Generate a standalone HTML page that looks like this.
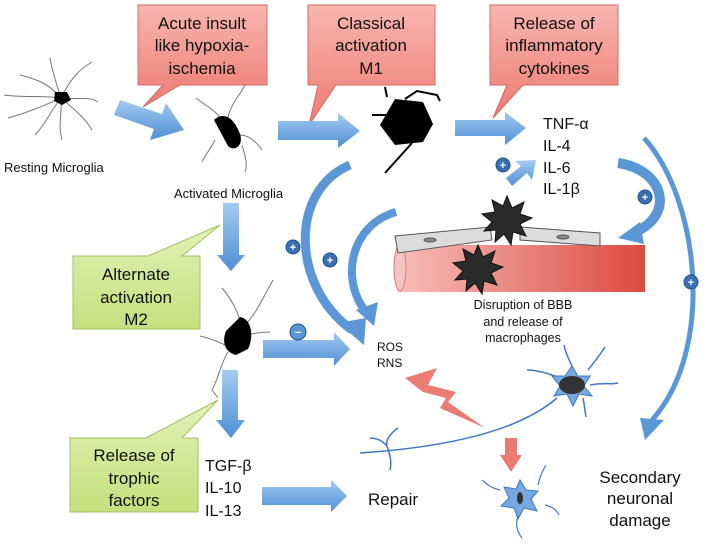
<!DOCTYPE html>
<html><head><meta charset="utf-8"><style>
body{margin:0;background:#fff;width:708px;height:550px;overflow:hidden}
svg{display:block}
text{font-family:"Liberation Sans",sans-serif;fill:#111}
</style></head><body>
<svg width="708" height="550" viewBox="0 0 708 550">
<defs>
<linearGradient id="rd" x1="0" y1="0" x2="0" y2="1"><stop offset="0" stop-color="#f8b6b0"/><stop offset="1" stop-color="#ec7a72"/></linearGradient>
<linearGradient id="gr" x1="0" y1="0" x2="0" y2="1"><stop offset="0" stop-color="#e3f1b6"/><stop offset="1" stop-color="#c5e07e"/></linearGradient>
<linearGradient id="vs" x1="0" y1="0" x2="1" y2="0"><stop offset="0" stop-color="#f7bdb8"/><stop offset="1" stop-color="#dc4a42"/></linearGradient>
<linearGradient id="bl" x1="0" y1="0" x2="0" y2="1"><stop offset="0" stop-color="#a4cbf0"/><stop offset="1" stop-color="#4f8fd6"/></linearGradient>
</defs>
<!-- red callouts -->
<g fill="url(#rd)" stroke="#d56a63">
<path d="M138,5 H267 V85 H180 L143,107 L163,85 H138 Z"/>
<path d="M308,5 H435 V85 H336 L309,125 L318,85 H308 Z"/>
<path d="M490,5 H618 V85 H523 L493,118 L507,85 H490 Z"/>
</g>
<g font-size="17" text-anchor="middle">
<text x="202" y="29">Acute insult</text><text x="202" y="51">like hypoxia-</text><text x="202" y="74">ischemia</text>
<text x="371" y="29">Classical</text><text x="371" y="51">activation</text><text x="371" y="74">M1</text>
<text x="554" y="29">Release of</text><text x="554" y="51">inflammatory</text><text x="554" y="74">cytokines</text>
</g>
<!-- green callouts -->
<g fill="url(#gr)" stroke="#a3c162">
<path d="M73,256 H148 L220,225 L182,256 H200 V329 H73 Z"/>
<path d="M70,438 H146 L218,400 L182,438 H198 V512 H70 Z"/>
</g>
<g font-size="17" text-anchor="middle">
<text x="136" y="280">Alternate</text><text x="136" y="303">activation</text><text x="136" y="325">M2</text>
<text x="134" y="461">Release of</text><text x="134" y="484">trophic</text><text x="134" y="506">factors</text>
</g>
<!-- straight blue arrows -->
<g fill="url(#bl)">
<path d="M120,100 L162,114 L166,103 L184,130 L150,140 L154,129 L114,115 Z"/>
<path d="M278,121 H338 V113 L360,131 L338,148 V140 H278 Z"/>
<path d="M455,120 H505 V112 L526,128 L505,145 V136 H455 Z"/>
<path d="M223,203 H239 V255 H245 L231,271 L217,255 H223 Z"/>
<path d="M222,370 H238 V420 H245 L231,438 L216,420 H222 Z"/>
<path d="M263,340 H334 V332 L350,349 L334,366 V358 H263 Z"/>
<path d="M262,487 H331 V480 L347,496 L331,512 V505 H262 Z"/>
<path d="M506,178 L521,166 L515,161 L536,160 L532,180 L527,173 L512,186 Z"/>
</g>
<!-- curved arrows -->
<g fill="none" stroke="#5b97d6">
<path d="M350,165 C290,190 290,285 352,330" stroke-width="9"/>
<path d="M396,212 C350,225 340,280 366,312" stroke-width="8"/>
<path d="M618,163 C665,170 675,215 635,232" stroke-width="10"/>
<path d="M644,138 C700,200 715,350 652,420" stroke-width="5"/>
</g>
<g fill="#5b97d6">
<path d="M338,323 L364,345 L366,318 Z"/>
<path d="M356,310 L374,326 L378,302 Z"/>
<path d="M640,222 L618,238 L644,244 Z"/>
<path d="M640,418 L645,440 L664,420 Z"/>
</g>
<!-- badges -->
<g fill="#3a6fb0" stroke="#1f4f8a">
<circle cx="293" cy="247" r="7"/><circle cx="330" cy="260" r="7"/><circle cx="503" cy="165" r="7"/><circle cx="645" cy="197" r="7"/><circle cx="691" cy="282" r="7"/><circle cx="298" cy="332" r="8" fill="#5b97d6"/>
</g>
<g font-size="11" font-weight="bold" text-anchor="middle">
<text x="293" y="251" style="fill:#fff">+</text><text x="330" y="264" style="fill:#fff">+</text><text x="503" y="169" style="fill:#fff">+</text><text x="645" y="201" style="fill:#fff">+</text><text x="691" y="286" style="fill:#fff">+</text><text x="298" y="336" style="fill:#fff">−</text>
</g>
<!-- vessel -->
<path d="M398,245 H645 V292 H398 Z" fill="url(#vs)"/>
<ellipse cx="400" cy="268" rx="6" ry="23" fill="#f6c4c0" stroke="#d77"/>
<g fill="#dcdcdc" stroke="#555">
<path d="M395,236 L490,227 L492,240 L398,253 Z"/>
<path d="M520,227 L600,233 L600,246 L520,240 Z"/>
<ellipse cx="430" cy="240" rx="6" ry="2" fill="#888"/><ellipse cx="563" cy="237" rx="6" ry="2" fill="#888"/>
</g>
<g fill="#2a2a2a" stroke="#111">
<path d="M507,196 l5,12 12,-6 -4,12 12,4 -12,6 6,12 -13,-4 -2,13 -7,-11 -9,8 1,-12 -12,1 8,-9 -10,-8 13,-2 -3,-12 11,6 Z"/>
<path d="M478,245 l5,12 12,-6 -4,12 12,4 -12,6 6,12 -13,-4 -2,13 -7,-11 -9,8 1,-12 -12,1 8,-9 -10,-8 13,-2 -3,-12 11,6 Z"/>
</g>
<!-- microglia -->
<g stroke="#777" fill="none" stroke-width="1">
<path d="M61,98 C50,85 40,80 20,75 M61,98 C45,105 30,112 8,118 M61,98 C55,80 52,70 50,58 M61,98 C70,80 78,70 92,62 M61,98 C80,100 90,96 98,102 M61,98 C62,115 58,125 62,140 M61,98 C50,112 45,125 35,135 M61,98 C75,110 85,118 92,130 M61,98 C40,95 25,98 4,95"/>
<path d="M222,120 C215,110 205,105 196,98 M228,118 C230,105 240,95 245,85 M240,135 C248,135 255,140 262,150 M215,140 C210,150 205,155 202,162 M242,145 C245,155 248,165 245,172"/>
<path d="M240,320 C235,305 228,295 222,288 M245,325 C255,315 262,300 273,280 M248,335 C255,333 262,332 270,332 M225,345 C215,340 208,338 200,336 M228,352 C220,365 218,380 212,390 L218,398"/>
</g>
<path d="M55,92 h12 l4,8 -9,5 -8,-4 Z" fill="#000"/>
<path d="M214,120 c10,-9 20,-2 26,14 c4,12 -6,18 -12,12 Z" fill="#000"/>
<path d="M395,99 l28,3 10,22 -10,18 -28,3 -15,-20 Z" fill="#000"/>
<path d="M387,97 l-2,-10 M405,99 l12,-8 20,4 l3,6 M372,115 h14 M412,143 l-27,30" stroke="#000" fill="none" stroke-width="2"/>
<path d="M240,317 c12,2 14,20 8,32 l-12,6 c-12,-3 -14,-14 -10,-24 Z" fill="#000"/>
<!-- neurons -->
<path d="M564,345 C566,355 570,362 573,368 M588,370 C596,360 600,355 605,347 M590,385 C605,382 610,385 618,383 M583,398 C585,408 585,412 586,417 M560,378 C545,372 535,370 527,370" stroke="#3d78c4" fill="none" stroke-width="1.5"/>
<path d="M572,366 l6,10 12,0 -6,10 8,10 -13,-2 -6,12 -6,-12 -13,2 6,-10 -8,-10 13,0 Z" fill="#78a8e0" stroke="#3d78c4"/>
<ellipse cx="572" cy="385" rx="13" ry="9" fill="#333"/>
<path d="M557,398 C520,430 450,447 360,453 M387,445 C385,440 392,432 398,428 M387,446 C390,455 392,462 390,470 M387,446 C382,440 376,438 370,438" stroke="#3d78c4" fill="none" stroke-width="1.5"/>
<path d="M520,480 l6,10 12,1 -7,8 6,12 -13,-3 -6,11 -4,-11 -13,-2 8,-8 -5,-11 12,2 Z" fill="#78a8e0" stroke="#3d78c4"/>
<ellipse cx="520" cy="498" rx="3" ry="6" fill="#333"/>
<g stroke="#3d78c4" fill="none" stroke-width="1.2"><path d="M500,490 q-10,-2 -18,-10 M538,485 q2,-10 8,-20 M545,505 q10,2 14,10 M518,516 q-4,12 4,22"/></g>
<!-- lightning & red arrow -->
<path d="M405,378 L437,368 L428,385 L456,392 L448,402 L485,428 L440,408 L446,398 L423,392 Z" fill="#ec7b74"/>
<path d="M505,438 H517 V455 H522 L511,472 L500,455 H505 Z" fill="#ec7b74"/>
<!-- labels -->
<g font-size="13">
<text x="4" y="172">Resting Microglia</text>
<text x="174" y="198">Activated Microglia</text>
</g>
<g font-size="12"><text x="377" y="351">ROS</text><text x="377" y="367">RNS</text></g>
<g font-size="12.5" text-anchor="middle"><text x="523" y="309">Disruption of BBB</text><text x="523" y="326">and release of</text><text x="523" y="342">macrophages</text></g>
<g font-size="16">
<text x="543" y="129">TNF-α</text><text x="543" y="151">IL-4</text><text x="543" y="173">IL-6</text><text x="543" y="194">IL-1β</text>
</g>
<g font-size="16">
<text x="205" y="471">TGF-β</text><text x="205" y="493">IL-10</text><text x="205" y="516">IL-13</text>
</g>
<text x="368" y="505" font-size="17">Repair</text>
<g font-size="17" text-anchor="middle"><text x="640" y="483">Secondary</text><text x="640" y="504">neuronal</text><text x="640" y="526">damage</text></g>
</svg>
</body></html>
